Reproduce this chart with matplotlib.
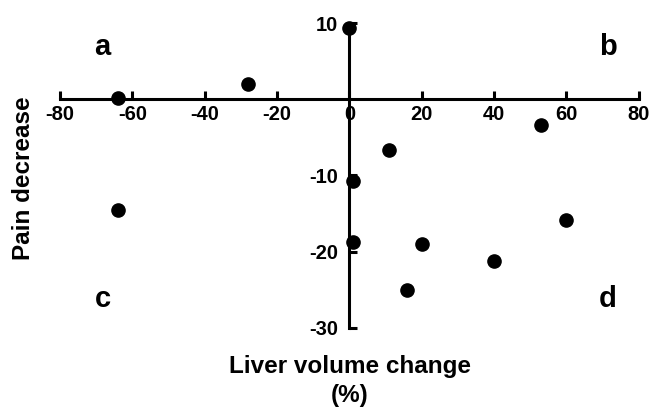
import matplotlib.pyplot as plt

liver_change = [-64, -28, 0, 53, 11, 1, 1, 20, 16, 40, 60, -64]
pain_decrease = [0.2, 2.0, 9.3, -3.4, -6.6, -10.7, -18.7, -19.0, -25.0, -21.2, -15.8, -14.5]
x_ticks = [-80, -60, -40, -20, 0, 20, 40, 60, 80]
y_ticks = [10, -10, -20, -30]
quadrants = ['a', 'b', 'c', 'd']


def plot():
    plt.rcParams['font.family'] = ['Liberation Sans', 'DejaVu Sans']
    plt.rcParams['font.weight'] = 'bold'
    plt.rcParams['axes.unicode_minus'] = False
    fig = plt.figure(figsize=(6.6, 4.11), dpi=100)
    ax = fig.add_axes([0.0909, 0.202, 0.877, 0.742])

    ax.plot(liver_change, pain_decrease, 'o', color='black', markersize=9.5, clip_on=False)

    ax.set_xlim(-80, 80)
    ax.set_ylim(-30, 10)
    for side in ['top', 'right']:
        ax.spines[side].set_visible(False)
    ax.spines['left'].set_position(('data', 0))
    ax.spines['bottom'].set_position(('data', 0))
    ax.spines['left'].set_linewidth(2.2)
    ax.spines['bottom'].set_linewidth(2.2)

    ax.set_xticks(x_ticks)
    ax.set_yticks(y_ticks)
    ax.tick_params(axis='x', direction='in', length=6, width=2.2, pad=4, labelsize=14.5)
    ax.tick_params(axis='y', direction='in', length=6, width=2.2, pad=8, labelsize=14.5)
    for lbl in ax.get_xticklabels() + ax.get_yticklabels():
        lbl.set_fontweight('bold')

    # quadrant letters
    ax.text(-68.2, 5.8, quadrants[0], fontsize=21, fontweight='bold', ha='center', va='baseline')
    ax.text(71.5, 5.8, quadrants[1], fontsize=21, fontweight='bold', ha='center', va='baseline')
    ax.text(-68.2, -27.3, quadrants[2], fontsize=21, fontweight='bold', ha='center', va='baseline')
    ax.text(71.5, -27.3, quadrants[3], fontsize=21, fontweight='bold', ha='center', va='baseline')

    fig.text(0.53, 0.073, 'Liver volume change\n(%)', fontsize=17.5, fontweight='bold',
             ha='center', va='center', multialignment='center', linespacing=1.3)
    fig.text(0.036, 1 - 178 / 411, 'Pain decrease', fontsize=17.5, fontweight='bold',
             rotation=90, ha='center', va='center')

    fig.savefig('out.png', dpi=100)


def main():
    plot()


main()
